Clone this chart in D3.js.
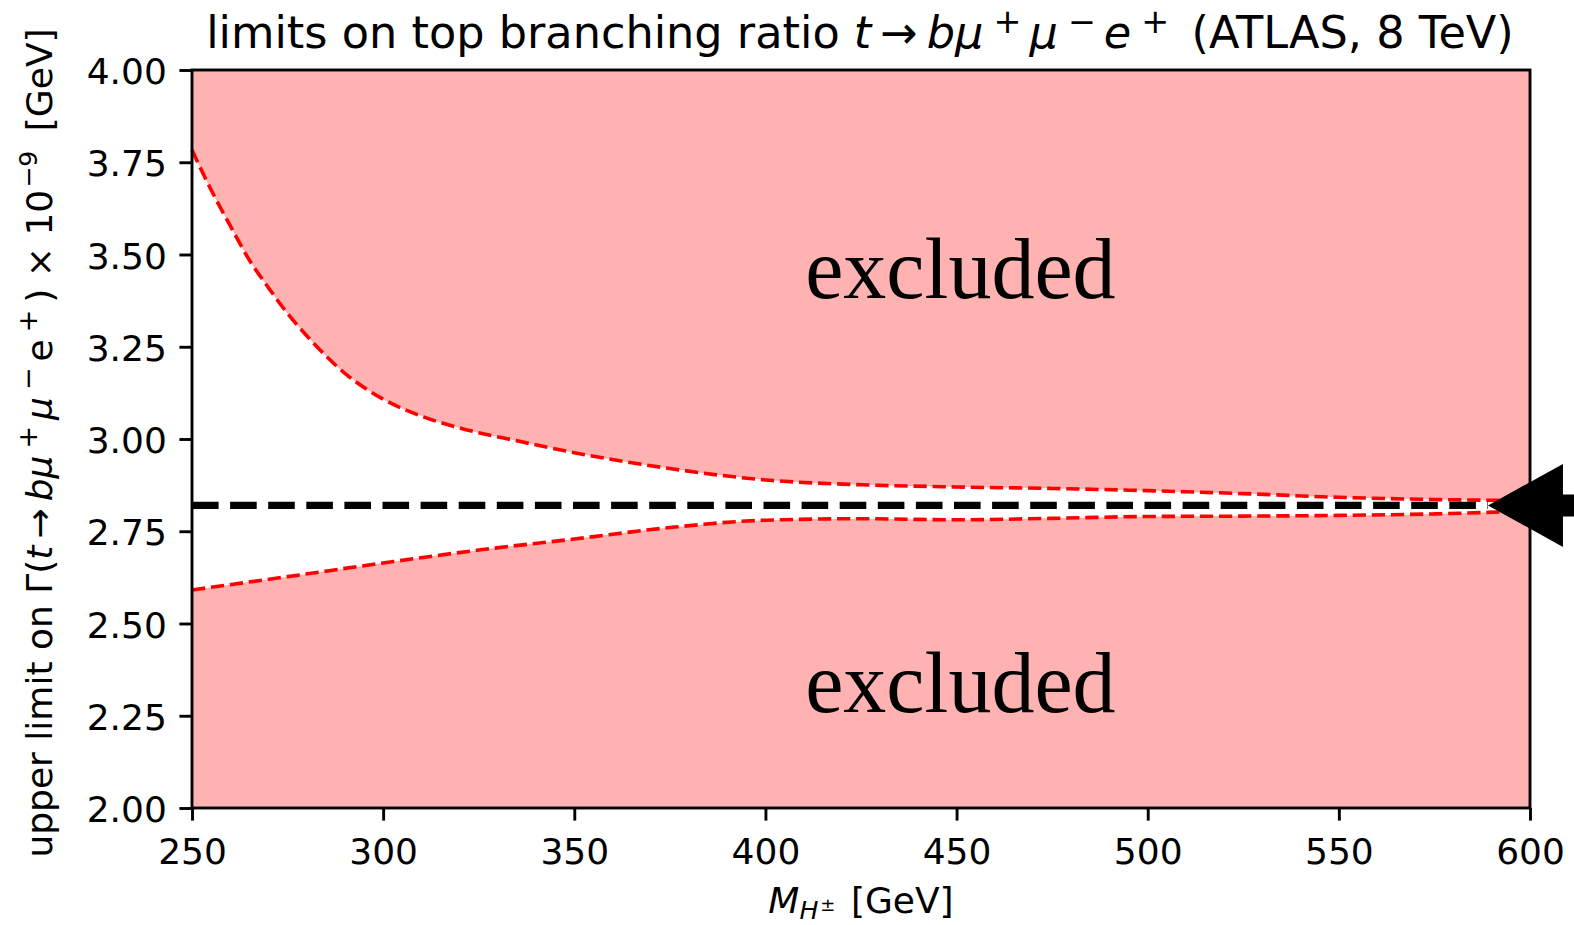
<!DOCTYPE html>
<html>
<head>
<meta charset="utf-8">
<script src="https://cdn.jsdelivr.net/npm/d3@7"></script>
<style>
  html, body { margin: 0; padding: 0; background: #fff; }
  svg { display: block; }
  text { font-family: "DejaVu Sans", sans-serif; fill: #000; }
</style>
</head>
<body>
<svg id="chart" width="1574" height="925"></svg>
<script>
// ---- data ----
const upperMass = [250, 255, 260, 265, 270, 275, 280, 290, 300, 310, 320, 335, 350, 375, 400, 425, 450, 475, 500, 525, 550, 575, 600];
const upperLimit = [3.783, 3.675, 3.578, 3.485, 3.41, 3.34, 3.28, 3.178, 3.108, 3.062, 3.030, 2.995, 2.963, 2.920, 2.889, 2.876, 2.870, 2.866, 2.860, 2.852, 2.842, 2.836, 2.833];
const lowerMass = [250, 275, 300, 325, 350, 375, 400, 425, 450, 475, 500, 525, 550, 575, 600];
const lowerLimit = [2.591, 2.627, 2.664, 2.699, 2.729, 2.760, 2.780, 2.784, 2.781, 2.785, 2.790, 2.791, 2.793, 2.797, 2.805];
const measured = 2.82;
const arrowTipMass = 589;
const xTicks = [250, 300, 350, 400, 450, 500, 550, 600];
const yTicks = [2.00, 2.25, 2.50, 2.75, 3.00, 3.25, 3.50, 3.75, 4.00];
const xDomain = [250, 600];
const yDomain = [2.0, 4.0];
const regionLabel = "excluded";
const upperLabelPos = [451, 3.383];
const lowerLabelPos = [451, 2.26];

// ---- layout ----
const L = 192, R = 1530, T = 70, B = 808;
const svg = d3.select("#chart");
const x = d3.scaleLinear().domain(xDomain).range([L, R]);
const y = d3.scaleLinear().domain(yDomain).range([B, T]);

const fillColor = "#ffb2b2";

const upperPts = upperMass.map((m, i) => [m, upperLimit[i]]);
const lowerPts = lowerMass.map((m, i) => [m, lowerLimit[i]]);

// filled excluded regions
const areaTop = d3.area().x(d => x(d[0])).y0(y(yDomain[1])).y1(d => y(d[1])).curve(d3.curveMonotoneX);
const areaBot = d3.area().x(d => x(d[0])).y0(y(yDomain[0])).y1(d => y(d[1])).curve(d3.curveMonotoneX);
svg.append("path").attr("d", areaTop(upperPts)).attr("fill", fillColor);
svg.append("path").attr("d", areaBot(lowerPts)).attr("fill", fillColor);

// red dashed boundaries
const line = d3.line().x(d => x(d[0])).y(d => y(d[1])).curve(d3.curveMonotoneX);
[upperPts, lowerPts].forEach(p => {
  svg.append("path").attr("d", line(p)).attr("fill", "none")
    .attr("stroke", "#ff0000").attr("stroke-width", 3.6)
    .attr("stroke-dasharray", "13.3,5.8");
});

// black dashed measured line
svg.append("line")
  .attr("x1", x(xDomain[0])).attr("x2", x(arrowTipMass))
  .attr("y1", y(measured)).attr("y2", y(measured))
  .attr("stroke", "#000").attr("stroke-width", 7.2)
  .attr("stroke-dasharray", "26.6,11.5");

// excluded labels
[upperLabelPos, lowerLabelPos].forEach(p => {
  svg.append("text").attr("x", x(p[0])).attr("y", y(p[1]))
    .attr("text-anchor", "middle")
    .style("font-family", '"Liberation Serif", serif')
    .style("font-size", "86px")
    .text(regionLabel);
});

// axes
const xAxis = d3.axisBottom(x).tickValues(xTicks).tickFormat(d3.format("d")).tickSize(12.6).tickPadding(12.6);
const yAxis = d3.axisLeft(y).tickValues(yTicks).tickFormat(d3.format(".2f")).tickSize(12.6).tickPadding(12.6);
const gx = svg.append("g").attr("transform", `translate(0,${B})`).call(xAxis);
const gy = svg.append("g").attr("transform", `translate(${L},0)`).call(yAxis);
[gx, gy].forEach(g => {
  g.select(".domain").remove();
  g.selectAll(".tick line").attr("stroke", "#000").attr("stroke-width", 2.9);
  g.selectAll(".tick text").style("font-family", '"DejaVu Sans", sans-serif').style("font-size", "36px").attr("fill", "#000");
});
gx.selectAll(".tick text").attr("dy", null).attr("y", 56);
gy.selectAll(".tick text").attr("dy", null).attr("dominant-baseline", null).attr("y", 13.5);

// spines
svg.append("rect").attr("x", L).attr("y", T).attr("width", R - L).attr("height", B - T)
  .attr("fill", "none").attr("stroke", "#000").attr("stroke-width", 2.9);

// arrow (annotation) on the right
const tx = x(arrowTipMass), ty = y(measured);
const arrowPts = [[0, 0], [75, -41.5], [75, -11], [200, -11], [200, 11], [75, 11], [75, 41.5]];
svg.append("polygon")
  .attr("points", arrowPts.map(p => [tx + p[0], ty + p[1]].join(",")).join(" "))
  .attr("fill", "#000");

// rich text helper
function rich(sel, fs, segs) {
  let shift = 0;
  segs.forEach(s => {
    const target = s.sup ? -(s.rise || 0.42) * fs : (s.sub ? (s.drop || 0.2) * fs : 0);
    const ts = sel.append("tspan").text(s.t);
    const dy = target - shift;
    if (dy !== 0) ts.attr("dy", dy);
    shift = target;
    if (s.sup || s.sub) ts.style("font-size", (s.size || 0.7) * fs + "px");
    if (s.i) ts.style("font-style", "italic");
    if (s.dx) ts.attr("dx", s.dx);
  });
}

// title
const TF = 44.6;
const title = svg.append("text").attr("x", (L + R) / 2 - 1).attr("y", 48)
  .attr("text-anchor", "middle").style("font-size", TF + "px");
rich(title, TF, [
  {t: "limits on top branching ratio "},
  {t: "t", i: true},
  {t: "\u2192", dx: 9},
  {t: "b\u03bc", i: true, dx: 9},
  {t: "+", sup: true, dx: 10, size: 0.75, rise: 0.34},
  {t: "\u03bc", i: true, dx: 8},
  {t: "\u2212", sup: true, dx: 10, size: 0.75, rise: 0.34},
  {t: "e", i: true, dx: 8},
  {t: "+", sup: true, dx: 10, size: 0.75, rise: 0.34},
  {t: "  (ATLAS, 8 TeV)", dx: 8}
]);

// y label
const ylab = svg.append("text").attr("transform", `translate(52,${(T + B) / 2 + 4}) rotate(-90)`)
  .attr("text-anchor", "middle").style("font-size", "36px");
rich(ylab, 36, [
  {t: "upper limit on \u0393("},
  {t: "t", i: true},
  {t: "\u2192", dx: 7},
  {t: "b\u03bc", i: true, dx: 7},
  {t: "+", sup: true, dx: 7, size: 0.75},
  {t: "\u03bc", i: true, dx: 6},
  {t: "\u2212", sup: true, dx: 7, size: 0.75},
  {t: "e", dx: 6},
  {t: "+", sup: true, dx: 7, size: 0.75},
  {t: ") \u00d7 10", dx: 7},
  {t: "\u22129", sup: true, dx: 2},
  {t: " [GeV]", dx: 8}
]);

// x label
const xlab = svg.append("text").attr("x", (L + R) / 2).attr("y", 913)
  .attr("text-anchor", "middle").style("font-size", "36px");
rich(xlab, 36, [
  {t: "M", i: true},
  {t: "H", i: true, sub: true, drop: 0.16},
  {t: "\u00b1", sup: true, size: 0.5, rise: 0.05, dx: 2},
  {t: "  [GeV]", dx: 4}
]);
</script>
</body>
</html>
